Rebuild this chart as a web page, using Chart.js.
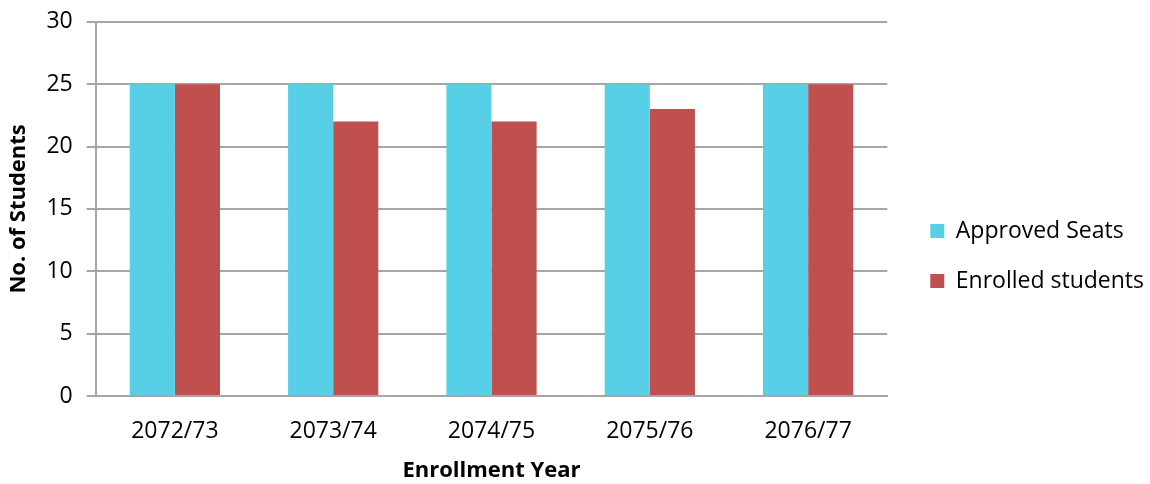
<!DOCTYPE html>
<html>
<head>
<meta charset="utf-8">
<script src="https://cdn.jsdelivr.net/npm/chart.js@4.4.1/dist/chart.umd.min.js"></script>
<style>
  html, body { margin: 0; padding: 0; background: #fff; }
  #wrap { width: 1150px; height: 484px; }
</style>
</head>
<body>
<div id="wrap"><canvas id="graphCanvas" width="1150" height="484"></canvas></div>
<script>
var years = ['2072/73', '2073/74', '2074/75', '2075/76', '2076/77'];
var approvedSeats = [25, 25, 25, 25, 25];
var enrolledStudents = [25, 22, 22, 23, 25];
var yTicks = [0, 5, 10, 15, 20, 25, 30];

var fontFamily = "'Open Sans', 'Noto Sans', sans-serif";
var gridColor = '#a6a6a6';

var chartdata = {
    labels: years,
    datasets: [
        {
            label: 'Approved Seats',
            backgroundColor: '#57cfe6',
            data: approvedSeats,
            categoryPercentage: 0.57,
            barPercentage: 1
        },
        {
            label: 'Enrolled students',
            backgroundColor: '#c0504d',
            data: enrolledStudents,
            categoryPercentage: 0.57,
            barPercentage: 1
        }
    ]
};

// nudge the legend a bit right and down from where the layout puts it
var legendShift = {
    id: 'legendShift',
    afterLayout: function (chart) {
        var lg = chart.legend;
        if (!lg) return;
        lg.left += 16;
        lg.right += 16;
        lg.top += 14;
        lg.bottom += 14;
    }
};

new Chart(document.getElementById('graphCanvas'), {
    type: 'bar',
    data: chartdata,
    plugins: [legendShift],
    options: {
        responsive: false,
        animation: false,
        layout: { padding: { top: 0, right: 12, left: 2, bottom: 0 } },
        plugins: {
            legend: {
                display: true,
                position: 'right',
                labels: {
                    boxWidth: 14,
                    boxHeight: 14,
                    padding: 27,
                    color: '#000',
                    font: { family: fontFamily, size: 23 }
                }
            },
            tooltip: { enabled: false }
        },
        scales: {
            x: {
                grid: { display: false, drawTicks: false },
                border: { display: true, color: gridColor, width: 2 },
                ticks: {
                    color: '#000',
                    padding: 22,
                    font: { family: fontFamily, size: 23 }
                },
                title: {
                    display: true,
                    text: 'Enrollment Year',
                    color: '#000',
                    font: { family: fontFamily, size: 22, weight: 'bold' },
                    padding: { top: -10, bottom: 0 }
                }
            },
            y: {
                min: 0,
                max: 30,
                afterBuildTicks: function (axis) {
                    axis.ticks = yTicks.map(function (v) { return { value: v }; });
                },
                afterFit: function (scale) {
                    scale.paddingTop = Math.max(0, scale.paddingTop - 6);
                },
                grid: {
                    color: gridColor,
                    lineWidth: 2,
                    drawTicks: true,
                    tickLength: 9
                },
                border: { display: true, color: gridColor, width: 2 },
                ticks: {
                    color: '#000',
                    padding: 14,
                    font: { family: fontFamily, size: 23 }
                },
                title: {
                    display: true,
                    text: 'No. of Students',
                    color: '#000',
                    font: { family: fontFamily, size: 22, weight: 'bold' },
                    padding: { bottom: 0 }
                }
            }
        }
    }
});
</script>
</body>
</html>
